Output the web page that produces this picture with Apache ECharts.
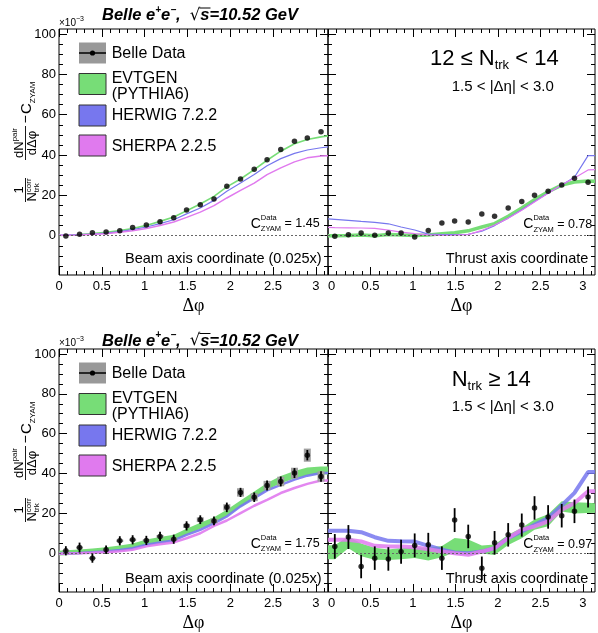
<!DOCTYPE html>
<html>
<head>
<meta charset="utf-8">
<script src="https://cdn.jsdelivr.net/npm/echarts@6/dist/echarts.min.js"></script>
<style>
  html, body { margin: 0; padding: 0; background: #fff; }
  #chart { width: 598px; height: 633px; }
</style>
</head>
<body>
<div id="chart"></div>
<script>
// bin centres in delta phi (20 bins over 0..pi)
const phiBins = [0.08, 0.24, 0.39, 0.55, 0.71, 0.86, 1.02, 1.18, 1.34, 1.49, 1.65, 1.81, 1.96, 2.12, 2.28, 2.43, 2.59, 2.75, 2.90, 3.06];
// model curves also carry the edge points 0 and pi
const phiModel = [0, 0.08, 0.24, 0.39, 0.55, 0.71, 0.86, 1.02, 1.18, 1.34, 1.49, 1.65, 1.81, 1.96, 2.12, 2.28, 2.43, 2.59, 2.75, 2.90, 3.06, 3.1416];

const xTicks = [0, 0.5, 1, 1.5, 2, 2.5, 3];
const yTicks = [0, 20, 40, 60, 80, 100];

// 12 <= Ntrk < 14, beam axis (x0.025)
const beamLowData = [-0.2, 0.7, 1.5, 1.8, 2.5, 4.1, 5.3, 6.9, 8.9, 12.7, 15.4, 18.2, 24.5, 28.1, 32.9, 37.7, 42.7, 46.8, 48.5, 51.5];
const beamLowEvtgen = [0.1, 0.2, 0.5, 1.0, 1.7, 2.5, 3.6, 5.1, 7.1, 9.3, 12.4, 15.7, 19.5, 24.2, 28.1, 32.8, 37.4, 41.9, 45.6, 47.7, 49.0, 49.5];
const beamLowHerwig = [0.3, 0.3, 0.5, 0.8, 1.3, 2.0, 3.0, 4.3, 6.0, 7.9, 10.8, 13.7, 17.5, 22.0, 26.1, 30.3, 34.7, 38.2, 40.8, 42.5, 43.6, 44.0];
const beamLowSherpa = [0.2, 0.2, 0.3, 0.7, 1.0, 1.7, 2.5, 3.6, 5.0, 6.8, 9.1, 11.7, 14.9, 18.7, 22.5, 26.1, 30.3, 33.6, 36.6, 38.6, 39.5, 39.7];

// 12 <= Ntrk < 14, thrust axis
const thrustLowData = [-0.3, 0.5, 1.3, 0.2, 1.3, 1.3, -0.7, 2.6, 6.3, 7.3, 6.8, 10.8, 9.6, 13.7, 16.9, 20.0, 22.0, 25.1, 28.5, 26.5];
const thrustLowEvtgen = [0.0, 0.0, 0.1, 0.3, 0.0, 0.6, 0.3, 0.1, 0.3, 1.0, 1.5, 2.4, 4.3, 6.0, 9.6, 13.7, 17.9, 21.8, 25.1, 26.6, 27.1, 27.0];
const thrustLowHerwig = [8.3, 8.1, 7.6, 7.1, 6.6, 5.9, 4.3, 2.8, 0.8, 0.5, 0.5, 0.7, 2.2, 5.0, 8.8, 12.9, 17.0, 21.2, 25.1, 29.0, 39.7, 39.7];
const thrustLowSherpa = [4.1, 4.0, 3.9, 3.8, 3.6, 2.8, 1.8, 1.0, 0.4, 0.2, 0.3, 0.5, 2.6, 5.3, 8.6, 12.6, 16.7, 21.0, 25.3, 28.6, 32.6, 32.8];

// Ntrk >= 14, beam axis (x0.025)
const beamHighData = [1.2, 2.8, -2.5, 1.7, 6.2, 6.7, 6.4, 8.4, 7.0, 13.7, 16.8, 16.2, 23.0, 30.5, 28.1, 34.0, 36.0, 40.2, 49.2, 38.5];
const beamHighStat = [2.3, 2.5, 2.3, 2.1, 2.3, 2.3, 2.3, 2.3, 2.3, 2.3, 2.2, 2.2, 2.4, 2.3, 2.4, 2.5, 2.5, 2.5, 2.6, 2.6];
const beamHighSys = [0.4, 0.5, 0.4, 0.4, 0.6, 0.6, 0.6, 0.7, 0.7, 1.0, 1.2, 1.2, 1.6, 2.1, 2.0, 2.3, 2.4, 2.7, 3.3, 2.6];
const beamHighEvtgen = [0.0, 0.2, 0.7, 1.2, 1.7, 2.5, 3.5, 5.5, 6.6, 7.8, 10.8, 13.8, 16.5, 20.2, 24.8, 29.3, 33.5, 36.9, 39.4, 41.0, 41.5, 41.5];
const beamHighEvtgenErr = [1.2, 1.2, 1.2, 1.2, 1.3, 1.3, 1.4, 1.4, 1.5, 1.5, 1.5, 1.5, 1.5, 1.6, 1.6, 1.7, 1.7, 1.8, 1.9, 2.0, 2.0, 2.0];
const beamHighHerwig = [-0.3, -0.2, 0.1, 0.4, 0.8, 1.6, 2.5, 4.2, 5.3, 6.4, 9.2, 11.7, 15.0, 18.4, 23.5, 27.6, 31.5, 34.3, 36.9, 38.9, 40.2, 40.2];
const beamHighSherpa = [-0.3, -0.2, 0.0, 0.2, 0.5, 1.0, 1.7, 3.4, 4.5, 5.4, 7.5, 10.0, 13.7, 16.4, 20.1, 23.8, 26.8, 30.2, 32.7, 34.8, 36.5, 36.5];

// Ntrk >= 14, thrust axis
const thrustHighData = [3.4, 8.1, -6.7, -2.5, -2.9, 0.7, 3.9, 4.2, -2.5, 16.6, 8.4, -7.6, 5.2, 9.2, 14.1, 22.7, 18.2, 18.8, 21.0, 28.2];
const thrustHighStat = [6.2, 6.0, 5.9, 5.9, 5.9, 6.0, 6.0, 6.0, 5.9, 6.0, 5.9, 5.9, 5.9, 5.9, 5.8, 5.9, 5.9, 5.9, 5.9, 5.3];
const thrustHighEvtgen = [0.5, 0.5, 5.5, 1.7, -0.3, -0.8, -0.2, 0.2, -0.5, 0.8, 4.0, 3.6, 1.8, 1.7, 6.7, 10.1, 14.3, 16.5, 23.5, 22.7, 22.7, 22.7];
const thrustHighEvtgenErr = [3.5, 3.5, 3.0, 3.2, 3.0, 2.6, 2.8, 2.6, 3.2, 2.8, 3.6, 3.2, 2.0, 2.6, 2.6, 2.6, 2.6, 3.0, 2.6, 2.8, 2.6, 2.4];
const thrustHighHerwig = [11.2, 11.2, 11.2, 10.5, 8.0, 6.2, 6.0, 5.8, 3.7, 1.7, 0.3, 0.0, 0.8, 2.5, 7.6, 10.9, 14.3, 17.6, 24.0, 30.3, 40.7, 40.7];
const thrustHighSherpa = [6.7, 6.7, 6.7, 5.9, 3.7, 3.4, 3.4, 3.0, 2.0, 0.8, 0.0, -0.8, 0.8, 2.5, 7.6, 11.8, 13.4, 16.0, 21.8, 25.2, 31.1, 31.1];

const cZyam = ['1.45', '0.78', '1.75', '0.97'];

const GREEN = '#77dd77';
const BLUE = '#7777ee';
const MAGENTA = '#e07aee';
const FONT = 'Liberation Sans';

const grids = [
  { left: 59, top: 29, width: 269, height: 246 },
  { left: 328, top: 29, width: 267, height: 246 },
  { left: 59, top: 349, width: 269, height: 246 },
  { left: 328, top: 349, width: 267, height: 246 }
];

// ---- text helpers (runs of text with super/subscripts) ----
const ctx2d = document.createElement('canvas').getContext('2d');
function measure(p) {
  ctx2d.font = (p.italic ? 'italic ' : '') + (p.bold ? 'bold ' : '') + p.size + 'px "' + (p.family || FONT) + '"';
  return ctx2d.measureText(p.t).width;
}
// keep: next part starts at the same x (stacked super/subscript)
function textRun(x, y, parts, align) {
  const widths = parts.map(measure);
  let total = 0;
  parts.forEach((p, k) => { if (!p.keep) total += widths[k]; });
  let cx = align === 'right' ? x - total : align === 'center' ? x - total / 2 : x;
  const out = [];
  parts.forEach((p, k) => {
    out.push({
      type: 'text', x: cx, y: y + (p.dy || 0), silent: true,
      style: {
        text: p.t, fill: '#000', fontSize: p.size, fontFamily: p.family || FONT,
        fontWeight: p.bold ? 'bold' : 'normal', fontStyle: p.italic ? 'italic' : 'normal',
        align: 'left', verticalAlign: 'middle'
      }
    });
    if (!p.keep) cx += widths[k];
  });
  return out;
}

function yTitle(dy) {
  const bar = (x1, x2) => ({ type: 'line', shape: { x1: x1, y1: -0.5, x2: x2, y2: -0.5 }, style: { stroke: '#000', lineWidth: 0.9 } });
  const children = [].concat(
    textRun(-39, -7, [{ t: '1', size: 13 }], 'center'),
    [bar(-51, -27)],
    textRun(-39, 6, [{ t: 'N', size: 13 }, { t: 'trk', size: 8, dy: 5, keep: true }, { t: 'corr', size: 8, dy: -3.5 }], 'center'),
    textRun(8, -7, [{ t: 'dN', size: 13 }, { t: 'pair', size: 8, dy: -4 }], 'center'),
    [bar(-9, 25)],
    textRun(8, 6, [{ t: 'd\u0394\u03c6', size: 13 }], 'center'),
    textRun(27.5, 0.5, [{ t: '\u2212', size: 14 }], 'left'),
    textRun(37, 1, [{ t: 'C', size: 15 }, { t: 'ZYAM', size: 8, dy: 6 }], 'left')
  );
  return { type: 'group', x: 26, y: 151 + dy, rotation: Math.PI / 2, children: children };
}

function titleRow(y) {
  const parts = [
    { t: 'Belle e', size: 16.5, bold: true, italic: true },
    { t: '+', size: 10, bold: true, italic: true, dy: -5.5 },
    { t: 'e', size: 16.5, bold: true, italic: true },
    { t: '\u2212', size: 10, bold: true, italic: true, dy: -5.5 },
    { t: ',  ', size: 16.5, bold: true, italic: true },
    { t: '\u221a', size: 16.5, family: 'DejaVu Sans' },
    { t: 's=10.52 GeV', size: 16.5, bold: true, italic: true }
  ];
  const els = textRun(102, y, parts, 'left');
  const sx = els[6].x;
  const sw = measure({ t: 's', size: 16.5, bold: true, italic: true });
  els.push({ type: 'line', silent: true, shape: { x1: sx - 1, y1: y - 7.5, x2: sx + sw + 1, y2: y - 7.5 }, style: { stroke: '#000', lineWidth: 1 } });
  return els;
}

function legendBlock(dy) {
  const box = (y, fill) => ({ type: 'rect', silent: true, shape: { x: 79, y: y + dy, width: 27, height: 21 }, style: { fill: fill, stroke: '#333', lineWidth: 1 } });
  return [
    { type: 'rect', silent: true, shape: { x: 79, y: 42.5 + dy, width: 27, height: 21 }, style: { fill: '#999999' } },
    { type: 'line', silent: true, shape: { x1: 79, y1: 53 + dy, x2: 106, y2: 53 + dy }, style: { stroke: '#000', lineWidth: 1.5 } },
    { type: 'circle', silent: true, shape: { cx: 92.5, cy: 53 + dy, r: 2.6 }, style: { fill: '#000' } },
    box(73.5, GREEN), box(105, BLUE), box(135, MAGENTA)
  ].concat(
    textRun(111.7, 53.3 + dy, [{ t: 'Belle Data', size: 16 }], 'left'),
    textRun(111.7, 78.8 + dy, [{ t: 'EVTGEN', size: 16 }], 'left'),
    textRun(111.7, 94.5 + dy, [{ t: '(PYTHIA6)', size: 16 }], 'left'),
    textRun(111.7, 116 + dy, [{ t: 'HERWIG 7.2.2', size: 16 }], 'left'),
    textRun(111.7, 146.5 + dy, [{ t: 'SHERPA 2.2.5', size: 16 }], 'left')
  );
}

function czyam(x, y, val) {
  return textRun(x, y, [
    { t: 'C', size: 14 },
    { t: 'Data', size: 7.5, dy: -6, keep: true },
    { t: 'ZYAM', size: 7.5, dy: 5.5 },
    { t: ' = ' + val, size: 12.5 }
  ], 'left');
}

let graphics = [];
[0, 320].forEach((dy, row) => {
  graphics = graphics.concat(
    titleRow(row === 0 ? 15.5 : 341),
    textRun(59, 23.5 + dy, [{ t: '\u00d710', size: 10 }, { t: '\u22123', size: 7, dy: -4 }], 'left'),
    legendBlock(dy),
    [yTitle(dy)],
    czyam(250.7, 223.8 + dy, cZyam[row * 2]),
    czyam(523.3, 224.3 + dy, cZyam[row * 2 + 1]),
    textRun(321.7, 258.6 + dy, [{ t: 'Beam axis coordinate (0.025x)', size: 14.5 }], 'right'),
    textRun(588.3, 258.8 + dy, [{ t: 'Thrust axis coordinate', size: 14.5 }], 'right'),
    textRun(451.7, 86.7 + dy, [{ t: '1.5 < |\u0394\u03b7| < 3.0', size: 15 }], 'left')
  );
});
graphics = graphics.concat(
  textRun(430, 59, [{ t: '12 \u2264 N', size: 22 }, { t: 'trk', size: 13, dy: 6.5 }, { t: ' < 14', size: 22 }], 'left'),
  textRun(451.7, 380, [{ t: 'N', size: 22 }, { t: 'trk', size: 13, dy: 6.5 }, { t: ' \u2265 14', size: 22 }], 'left')
);

// ---- axes ----
const xAxes = [];
const yAxes = [];
grids.forEach((g, i) => {
  const tickBase = { inside: true, lineStyle: { color: '#000', width: 1 } };
  xAxes.push({
    type: 'value', gridIndex: i, position: 'bottom', min: 0, max: Math.PI, interval: 0.5,
    axisLine: { show: false, onZero: false }, splitLine: { show: false },
    axisTick: Object.assign({ length: 8, customValues: xTicks }, tickBase),
    minorTick: { show: true, splitNumber: 5, length: 4, lineStyle: { color: '#000' } },
    axisLabel: { customValues: xTicks, fontSize: 13, fontFamily: FONT, color: '#000', margin: 5, alignMinLabel: i % 2 ? 'left' : 'center' },
    name: '\u0394\u03c6', nameLocation: 'middle', nameGap: 22,
    nameTextStyle: { fontFamily: 'Liberation Serif', fontSize: 18, color: '#000' }
  });
  xAxes.push({
    type: 'value', gridIndex: i, position: 'top', min: 0, max: Math.PI, interval: 0.5,
    axisLine: { show: false, onZero: false }, splitLine: { show: false }, axisLabel: { show: false },
    axisTick: Object.assign({ length: 8, customValues: xTicks }, tickBase),
    minorTick: { show: true, splitNumber: 5, length: 4, lineStyle: { color: '#000' } }
  });
  [0, 1].forEach(side => {
    yAxes.push({
      type: 'value', gridIndex: i, position: side ? 'right' : 'left', min: -19.5, max: 102.5,
      axisLine: { show: false, onZero: false }, splitLine: { show: false },
      axisTick: Object.assign({ length: 8, customValues: yTicks }, tickBase),
      minorTick: { show: true, splitNumber: 4, length: 4, lineStyle: { color: '#000' } },
      axisLabel: { show: side === 0 && i % 2 === 0, customValues: yTicks, fontSize: 13, fontFamily: FONT, color: '#000', margin: 3 }
    });
  });
});

// ---- series helpers ----
function modelLine(i, vals, color, width, opacity) {
  return {
    type: 'line', xAxisIndex: 2 * i, yAxisIndex: 2 * i, z: 2,
    data: phiModel.map((x, k) => [x, vals[k]]),
    symbol: 'none', silent: true,
    lineStyle: { color: color, width: width, opacity: opacity || 1 }
  };
}
function modelBand(i, mid, half, color) {
  return {
    type: 'custom', xAxisIndex: 2 * i, yAxisIndex: 2 * i, z: 1, silent: true,
    data: phiModel.map((x, k) => [x, mid[k] - half[k], mid[k] + half[k]]),
    renderItem: (params, api) => {
      if (params.dataIndex !== 0) return null;
      const upper = phiModel.map((x, k) => api.coord([x, mid[k] + half[k]]));
      const lower = phiModel.map((x, k) => api.coord([x, mid[k] - half[k]])).reverse();
      return { type: 'polygon', shape: { points: upper.concat(lower) }, style: { fill: color } };
    }
  };
}
function zeroLine(i) {
  return {
    type: 'line', xAxisIndex: 2 * i, yAxisIndex: 2 * i, z: 3, data: [], silent: true,
    markLine: {
      silent: true, symbol: ['none', 'none'], label: { show: false },
      lineStyle: { color: '#666', type: [2, 2], width: 1 },
      data: [{ yAxis: 0 }]
    }
  };
}
function dataPoints(i, vals) {
  return {
    type: 'scatter', xAxisIndex: 2 * i, yAxisIndex: 2 * i, z: 6, silent: true,
    data: phiBins.map((x, k) => [x, vals[k]]),
    symbol: 'circle', symbolSize: 5.5, itemStyle: { color: '#000' }
  };
}
function errorBars(i, vals, errs) {
  return {
    type: 'custom', xAxisIndex: 2 * i, yAxisIndex: 2 * i, z: 5, silent: true,
    data: phiBins.map((x, k) => [x, vals[k] - errs[k], vals[k] + errs[k]]),
    renderItem: (params, api) => {
      const lo = api.coord([api.value(0), api.value(1)]);
      const hi = api.coord([api.value(0), api.value(2)]);
      return { type: 'line', shape: { x1: lo[0], y1: lo[1], x2: hi[0], y2: hi[1] }, style: { stroke: '#000', lineWidth: 1.8 } };
    }
  };
}
function sysBoxes(i, vals, sys) {
  return {
    type: 'custom', xAxisIndex: 2 * i, yAxisIndex: 2 * i, z: 4, silent: true,
    data: phiBins.map((x, k) => [x, vals[k] - sys[k], vals[k] + sys[k]]),
    renderItem: (params, api) => {
      const lo = api.coord([api.value(0), api.value(1)]);
      const hi = api.coord([api.value(0), api.value(2)]);
      return { type: 'rect', shape: { x: lo[0] - 3.5, y: hi[1], width: 7, height: Math.max(lo[1] - hi[1], 1) }, style: { fill: '#a0a0a0' } };
    }
  };
}

const series = [
  // top left
  modelLine(0, beamLowEvtgen, GREEN, 1.6),
  modelLine(0, beamLowHerwig, BLUE, 1.2),
  modelLine(0, beamLowSherpa, MAGENTA, 1.5),
  zeroLine(0),
  dataPoints(0, beamLowData),
  // top right
  modelLine(1, thrustLowEvtgen, GREEN, 3.5),
  modelLine(1, thrustLowHerwig, BLUE, 1.2),
  modelLine(1, thrustLowSherpa, MAGENTA, 1.2),
  zeroLine(1),
  dataPoints(1, thrustLowData),
  // bottom left
  modelBand(2, beamHighEvtgen, beamHighEvtgenErr, GREEN),
  modelLine(2, beamHighHerwig, BLUE, 2.5, 0.9),
  modelLine(2, beamHighSherpa, MAGENTA, 2.5, 0.9),
  zeroLine(2),
  sysBoxes(2, beamHighData, beamHighSys),
  errorBars(2, beamHighData, beamHighStat),
  dataPoints(2, beamHighData),
  // bottom right
  modelBand(3, thrustHighEvtgen, thrustHighEvtgenErr, GREEN),
  modelLine(3, thrustHighHerwig, BLUE, 4, 0.85),
  modelLine(3, thrustHighSherpa, MAGENTA, 4, 0.85),
  zeroLine(3),
  errorBars(3, thrustHighData, thrustHighStat),
  dataPoints(3, thrustHighData)
];

const chart = echarts.init(document.getElementById('chart'), null, { renderer: 'canvas' });
chart.setOption({
  animation: false,
  backgroundColor: '#fff',
  grid: grids.map(g => Object.assign({ show: true, borderColor: '#000', borderWidth: 1, backgroundColor: 'transparent' }, g)),
  xAxis: xAxes,
  yAxis: yAxes,
  series: series,
  graphic: { elements: graphics }
});
</script>
</body>
</html>
